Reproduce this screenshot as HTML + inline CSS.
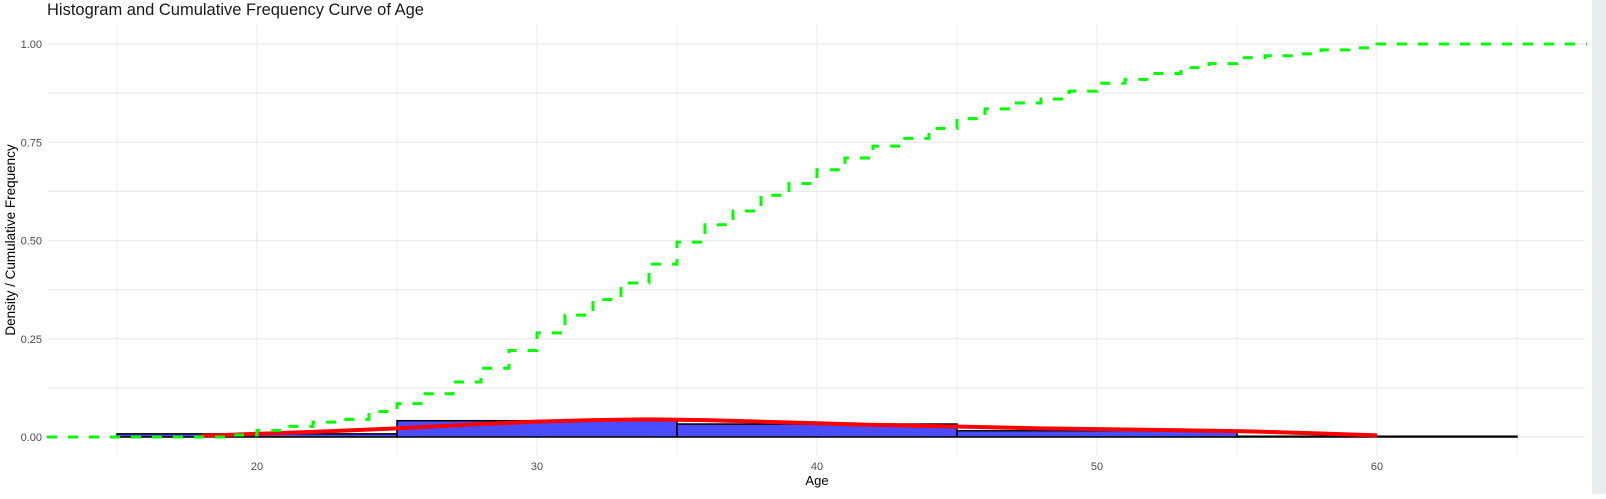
<!DOCTYPE html>
<html><head><meta charset="utf-8"><style>
body{margin:0;background:#fff;width:1606px;height:494px;overflow:hidden;font-family:"Liberation Sans",sans-serif}
</style></head><body>
<svg id="chart" width="1606" height="494" xmlns="http://www.w3.org/2000/svg">
<rect x="1592" y="0" width="14" height="494" fill="#e9edf2"/>
<text x="47" y="15" font-size="16.5" fill="#1a1a1a">Histogram and Cumulative Frequency Curve of Age</text>
<g id="grid"></g>
<g id="bars"></g>
<g id="marks"></g>
<g id="axes"></g>
<text x="817" y="485" font-size="13" text-anchor="middle" fill="#000">Age</text>
<text transform="translate(15,240) rotate(-90)" font-size="13.5" text-anchor="middle" fill="#000">Density / Cumulative Frequency</text>
</svg>
<script>
const binStarts=[15,25,35,45,55];
const binDensity=[0.008,0.0415,0.033,0.016,0.002];
const densAges=[18,20,22,25,28,30,32,34,36,38,40,42,44,46,48,50,52,55,58,60];
const densVals=[0.003,0.008,0.013,0.022,0.033,0.039,0.043,0.045,0.043,0.039,0.035,0.031,0.028,0.025,0.022,0.02,0.018,0.015,0.009,0.004];
const cumAges=[19,20,21,22,23,24,25,26,27,28,29,30,31,32,33,34,35,36,37,38,39,40,41,42,43,44,45,46,47,48,49,50,51,52,53,54,55,56,57,58,59,60];
const cumVals=[0.005,0.017,0.027,0.038,0.045,0.065,0.085,0.11,0.14,0.175,0.22,0.265,0.31,0.35,0.392,0.44,0.496,0.54,0.575,0.615,0.645,0.68,0.71,0.74,0.76,0.785,0.81,0.835,0.85,0.86,0.88,0.9,0.91,0.925,0.94,0.95,0.965,0.97,0.975,0.985,0.99,1.0];
const xTicks=[20,30,40,50,60];
const yTicks=[0,0.25,0.5,0.75,1.0];
const yLabels=["0.00","0.25","0.50","0.75","1.00"];
const X0=48,X1=1585,XMIN=12.5,XMAX=67.5;
function sx(v){return 257+(v-20)*28;}
function sy(v){return 437-v*393;}
const NS="http://www.w3.org/2000/svg";
function mk(tag,attrs,parent){const e=document.createElementNS(NS,tag);for(const k in attrs)e.setAttribute(k,attrs[k]);parent.appendChild(e);return e;}
const grid=document.getElementById('grid'),axes=document.getElementById('axes'),bars=document.getElementById('bars'),marks=document.getElementById('marks');
for(let v=15;v<=65;v+=5){const l=mk('line',{x1:sx(v),x2:sx(v),y1:25,y2:455,stroke:'#ebebeb','stroke-width':v%10===0?1.2:0.8},grid);

}
for(let v=0;v<=1.0001;v+=0.125){const l=mk('line',{x1:X0,x2:X1,y1:sy(v),y2:sy(v),stroke:'#ebebeb','stroke-width':1.2},grid);

}
xTicks.forEach(v=>{const t=mk('text',{x:sx(v),y:470,'font-size':11,'text-anchor':'middle',fill:'#4d4d4d'},axes);t.textContent=v;

});
yTicks.forEach((v,i)=>{const t=mk('text',{x:42,y:sy(v)+4,'font-size':11,'text-anchor':'end',fill:'#4d4d4d'},axes);t.textContent=yLabels[i];

});
binStarts.forEach((b,i)=>{const r=mk('rect',{x:sx(b),y:sy(binDensity[i]),width:sx(b+10)-sx(b),height:sy(0)-sy(binDensity[i]),fill:'#4b4bff',stroke:'#000','stroke-width':1.5},bars);

});
let dp='';densAges.forEach((a,i)=>{dp+=(i?'L':'M')+sx(a)+','+sy(densVals[i]);});
const dl=mk('path',{d:dp,fill:'none',stroke:'#ff0000','stroke-width':4,'stroke-linejoin':'round'},marks);


let cp='M'+sx(XMIN)+','+sy(0);let prev=0;
cumAges.forEach((a,i)=>{cp+='L'+sx(a)+','+sy(prev)+'L'+sx(a)+','+sy(cumVals[i]);prev=cumVals[i];});
cp+='L'+sx(XMAX)+','+sy(prev);
const cl=mk('path',{d:cp,fill:'none',stroke:'#00ff00','stroke-width':3,'stroke-dasharray':'10,11'},marks);


</script>
</body></html>
